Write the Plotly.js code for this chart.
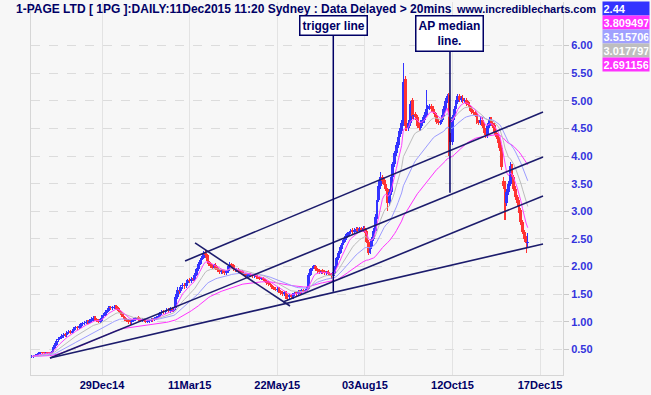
<!DOCTYPE html>
<html><head><meta charset="utf-8">
<script src="https://cdn.plot.ly/plotly-3.0.1.min.js"></script>
<style>html,body{margin:0;padding:0;background:#f7f7f7;}#chart{width:651px;height:395px;}</style>
</head><body><div id="chart"></div>
<script>
// ---------- data (trading-day index based) ----------
const tickIndex  = [40, 90, 140, 190, 240, 290];
const tickLabels = ['29Dec14','11Mar15','22May15','03Aug15','12Oct15','17Dec15'];
const priceTicks = [0.5,1.0,1.5,2.0,2.5,3.0,3.5,4.0,4.5,5.0,5.5,6.0];

const openP = [
0.36,0.37,0.38,0.40,0.42,0.43,0.45,0.44,0.43,0.45,
0.44,0.43,0.46,0.52,0.58,0.66,0.69,0.70,0.74,0.77,
0.75,0.80,0.83,0.80,0.84,0.88,0.91,0.88,0.92,0.95,
0.97,0.98,1.01,0.98,1.02,1.05,1.08,1.04,1.03,1.00,
1.04,1.10,1.13,1.18,1.22,1.26,1.24,1.26,1.28,1.26,
1.22,1.18,1.12,1.08,1.05,1.03,1.00,0.99,1.01,1.04,
1.06,1.08,1.05,1.02,1.05,1.02,1.00,1.01,1.03,1.05,
1.03,1.06,1.09,1.10,1.15,1.19,1.17,1.20,1.22,1.19,
1.24,1.20,1.25,1.45,1.58,1.55,1.64,1.67,1.64,1.70,
1.76,1.73,1.79,1.76,1.85,1.95,2.05,2.12,2.16,2.25,
2.20,2.10,2.06,2.01,1.98,2.03,1.97,1.94,1.90,1.93,
1.90,1.88,1.92,2.00,2.05,2.02,1.96,1.93,1.96,1.92,
1.91,1.88,1.86,1.83,1.84,1.87,1.84,1.82,1.84,1.81,
1.81,1.78,1.79,1.77,1.74,1.71,1.68,1.66,1.63,1.60,
1.57,1.60,1.56,1.52,1.50,1.54,1.48,1.45,1.49,1.45,
1.50,1.53,1.50,1.55,1.54,1.57,1.56,1.58,1.60,1.85,
1.95,1.99,2.00,1.96,1.93,1.90,1.93,1.91,1.88,1.91,
1.88,1.86,1.82,1.90,2.00,2.15,2.25,2.35,2.42,2.48,
2.55,2.60,2.62,2.66,2.62,2.66,2.69,2.65,2.69,2.66,
2.70,2.64,2.45,2.25,2.35,2.50,2.65,2.90,3.20,3.45,
3.62,3.56,3.49,3.40,3.15,3.35,3.62,3.85,4.05,4.20,
4.35,4.45,4.60,5.40,4.55,4.50,4.60,5.02,4.72,4.76,
4.70,4.55,4.50,4.60,4.65,4.75,4.86,4.88,4.91,4.86,
4.80,4.75,4.63,4.60,4.62,4.70,4.85,5.00,5.10,4.35,
4.25,4.70,4.85,4.98,5.09,5.02,5.06,5.00,5.02,4.96,
4.93,4.86,4.80,4.78,4.76,4.62,4.60,4.66,4.56,4.46,
4.38,4.55,4.66,4.60,4.56,4.42,4.35,4.30,4.15,3.55,
3.50,3.15,3.35,3.50,3.82,3.62,3.40,3.26,3.15,3.02,
2.80,2.62,2.52,2.42
];
const highP = [
0.39,0.40,0.42,0.43,0.45,0.46,0.46,0.45,0.46,0.46,
0.45,0.47,0.55,0.62,0.68,0.72,0.73,0.77,0.79,0.79,
0.83,0.85,0.85,0.87,0.91,0.93,0.93,0.95,0.97,1.00,
1.01,1.03,1.03,1.05,1.08,1.10,1.10,1.07,1.05,1.06,
1.12,1.16,1.21,1.25,1.28,1.29,1.28,1.30,1.30,1.28,
1.24,1.20,1.15,1.10,1.07,1.05,1.03,1.03,1.06,1.08,
1.09,1.10,1.07,1.06,1.07,1.04,1.03,1.05,1.06,1.07,
1.08,1.11,1.13,1.17,1.21,1.22,1.22,1.24,1.25,1.27,
1.27,1.25,1.50,1.62,1.61,1.66,1.70,1.70,1.73,1.78,
1.79,1.81,1.82,1.88,1.98,2.08,2.15,2.19,2.28,2.30,
2.23,2.13,2.08,2.04,2.05,2.06,2.00,1.96,1.95,1.95,
1.93,1.94,2.03,2.08,2.07,2.04,1.98,1.98,1.98,1.94,
1.93,1.90,1.88,1.86,1.88,1.89,1.86,1.85,1.86,1.83,
1.83,1.81,1.81,1.79,1.76,1.73,1.70,1.68,1.65,1.63,
1.62,1.62,1.58,1.55,1.56,1.56,1.50,1.51,1.51,1.52,
1.54,1.55,1.57,1.57,1.59,1.59,1.60,1.62,1.88,1.98,
2.00,2.03,2.02,1.98,1.95,1.94,1.95,1.93,1.92,1.93,
1.90,1.88,1.93,2.04,2.18,2.28,2.38,2.46,2.52,2.58,
2.63,2.65,2.68,2.69,2.69,2.71,2.72,2.71,2.72,2.74,
2.73,2.67,2.48,2.38,2.53,2.70,2.95,3.25,3.55,3.72,
3.66,3.60,3.53,3.43,3.40,3.66,3.90,4.10,4.25,4.40,
4.50,4.65,5.68,5.45,4.60,4.65,5.00,5.06,4.80,4.80,
4.74,4.60,4.65,4.70,4.80,5.20,4.92,4.95,4.95,4.90,
4.84,4.78,4.67,4.66,4.74,4.90,5.05,5.12,5.14,4.42,
4.75,4.90,5.02,5.12,5.12,5.08,5.10,5.05,5.06,5.00,
4.97,4.90,4.84,4.82,4.80,4.66,4.70,4.70,4.60,4.50,
4.60,4.70,4.70,4.64,4.60,4.46,4.40,4.34,4.20,3.62,
3.55,3.40,3.55,3.90,3.86,3.66,3.45,3.30,3.20,3.06,
2.85,2.66,2.56,2.60
];
const lowP = [
0.34,0.35,0.36,0.38,0.40,0.41,0.42,0.41,0.41,0.42,
0.41,0.41,0.44,0.50,0.56,0.63,0.66,0.68,0.71,0.72,
0.73,0.77,0.77,0.78,0.81,0.85,0.85,0.86,0.89,0.93,
0.94,0.95,0.96,0.96,0.99,1.02,1.01,1.00,0.97,0.97,
1.02,1.07,1.10,1.15,1.19,1.21,1.21,1.23,1.23,1.19,
1.15,1.09,1.05,1.02,0.99,0.96,0.94,0.96,0.99,1.01,
1.03,1.02,0.99,0.99,0.99,0.97,0.97,0.98,1.00,1.00,
1.01,1.03,1.06,1.08,1.12,1.14,1.14,1.17,1.16,1.16,
1.18,1.17,1.22,1.42,1.51,1.52,1.60,1.60,1.61,1.67,
1.70,1.70,1.73,1.73,1.82,1.92,2.02,2.09,2.13,2.16,
2.06,2.01,1.97,1.95,1.95,1.93,1.90,1.87,1.87,1.86,
1.85,1.85,1.89,1.97,1.99,1.92,1.90,1.90,1.89,1.87,
1.85,1.82,1.80,1.80,1.81,1.81,1.79,1.79,1.78,1.77,
1.75,1.75,1.73,1.71,1.67,1.65,1.63,1.59,1.57,1.55,
1.54,1.52,1.49,1.47,1.47,1.42,1.37,1.42,1.42,1.42,
1.47,1.47,1.47,1.51,1.51,1.53,1.53,1.55,1.58,1.82,
1.92,1.96,1.92,1.89,1.87,1.87,1.87,1.85,1.85,1.84,
1.82,1.78,1.79,1.87,1.97,2.12,2.22,2.32,2.39,2.45,
2.52,2.57,2.59,2.59,2.59,2.63,2.62,2.62,2.63,2.63,
2.61,2.42,2.20,2.22,2.32,2.47,2.62,2.86,3.16,3.40,
3.50,3.44,3.36,3.00,3.10,3.30,3.58,3.80,4.00,4.15,
4.30,4.40,4.55,4.45,4.45,4.45,4.55,4.67,4.67,4.65,
4.50,4.45,4.45,4.55,4.60,4.70,4.82,4.84,4.80,4.76,
4.71,4.58,4.56,4.56,4.58,4.66,4.80,4.96,4.00,4.20,
4.20,4.65,4.80,4.94,4.98,4.98,4.96,4.96,4.91,4.88,
4.81,4.76,4.74,4.71,4.58,4.56,4.56,4.51,4.41,4.33,
4.33,4.50,4.56,4.51,4.38,4.30,4.23,4.10,3.75,3.40,
2.84,3.10,3.30,3.45,3.58,3.36,3.20,3.10,2.97,2.75,
2.58,2.45,2.25,2.36
];
const closeP = [
0.37,0.38,0.40,0.42,0.43,0.44,0.44,0.43,0.44,0.44,
0.43,0.45,0.52,0.58,0.65,0.68,0.70,0.74,0.76,0.75,
0.80,0.82,0.80,0.84,0.88,0.90,0.88,0.92,0.95,0.97,
0.98,1.00,0.98,1.02,1.05,1.07,1.04,1.02,1.00,1.04,
1.10,1.13,1.18,1.22,1.25,1.24,1.26,1.27,1.26,1.22,
1.18,1.12,1.08,1.05,1.02,1.00,0.99,1.01,1.04,1.06,
1.07,1.05,1.02,1.04,1.02,1.00,1.01,1.03,1.04,1.03,
1.06,1.09,1.10,1.15,1.18,1.17,1.20,1.21,1.19,1.24,
1.21,1.22,1.45,1.58,1.55,1.63,1.66,1.64,1.70,1.75,
1.73,1.78,1.76,1.85,1.95,2.05,2.12,2.15,2.22,2.20,
2.10,2.05,2.00,1.98,2.02,1.96,1.93,1.90,1.92,1.89,
1.88,1.92,2.00,2.04,2.02,1.95,1.93,1.95,1.92,1.90,
1.88,1.85,1.83,1.84,1.86,1.84,1.82,1.83,1.81,1.80,
1.78,1.79,1.76,1.74,1.70,1.68,1.66,1.62,1.60,1.58,
1.60,1.55,1.52,1.50,1.53,1.47,1.45,1.48,1.45,1.50,
1.52,1.50,1.55,1.54,1.57,1.56,1.58,1.60,1.85,1.95,
1.98,2.00,1.95,1.92,1.90,1.92,1.90,1.88,1.90,1.87,
1.85,1.82,1.90,2.00,2.15,2.25,2.35,2.42,2.48,2.55,
2.60,2.62,2.65,2.62,2.66,2.68,2.65,2.68,2.66,2.70,
2.64,2.45,2.25,2.35,2.50,2.65,2.90,3.20,3.45,3.62,
3.55,3.48,3.40,3.15,3.35,3.62,3.85,4.05,4.20,4.35,
4.45,4.60,5.35,4.55,4.50,4.60,4.95,4.72,4.75,4.70,
4.55,4.50,4.60,4.65,4.75,4.85,4.88,4.90,4.85,4.80,
4.75,4.62,4.60,4.62,4.70,4.85,5.00,5.08,4.35,4.25,
4.70,4.85,4.98,5.08,5.02,5.05,5.00,5.02,4.95,4.92,
4.85,4.80,4.78,4.75,4.62,4.60,4.65,4.55,4.45,4.38,
4.55,4.65,4.60,4.55,4.42,4.35,4.28,4.15,3.80,3.45,
3.15,3.35,3.50,3.82,3.62,3.40,3.25,3.15,3.02,2.80,
2.62,2.50,2.42,2.44
];

// exponential moving-average periods (slow -> fast), as in the value boxes
const maPeriods = [60, 30, 15, 7];
const legendValues = ['2.44','3.809497','3.515706','3.017797','2.691156'];

// analyst trendlines (index, price) endpoints
const trendX0 = [10.3, 10.3, 143.3, 87.4, 93.1];
const trendY0 = [0.342, 0.342, 1.357, 2.100, 2.426];
const trendX1 = [291.7, 291.7, 291.7, 291.7, 147.3];
const trendY1 = [2.408, 3.984, 3.277, 4.799, 1.284];

// callouts
const calloutText = ['trigger line', 'AP median<br>line.'];
const calloutX    = [172.0, 238.6];
const calloutY    = [1.543, 3.337];

// ---------- styling / layout ----------
const FONT = 'Liberation Sans, Arial, sans-serif';
const NAVY = '#000066';
const UP = '#3333ff', DOWN = '#ff3333';
const maColors = ['#ff33ff', '#9c9cff', '#bcbcbc', '#ff44ff'];
const legendColors = ['#3333ff', '#ff33ff', '#a0a0ff', '#bebebe', '#ff33ff'];
const calloutBoxY = [6.362, 6.225];

const M = {l: 31, r: 88, t: 2, b: 20};
const W = 651, H = 395;
const plotL = M.l, plotR = W - M.r, plotT = M.t, plotB = H - M.b;
const px2paper = px => (px - plotL) / (plotR - plotL);
const py2paper = py => (plotB - py) / (plotB - plotT);

const idx = closeP.map((_, i) => i);
const colors = closeP.map((c, i) => c >= openP[i] ? UP : DOWN);

function ema(arr, n) {
  const a = 2 / (n + 1);
  const out = [];
  let e = arr[0];
  arr.forEach((v, i) => { e = i === 0 ? v : e + a * (v - e); out.push(e); });
  return out;
}

const traces = [];
// wicks
traces.push({type: 'bar', x: idx, base: lowP, y: highP.map((h, i) => h - lowP[i]),
  width: 0.6, marker: {color: colors, line: {width: 0}}, hoverinfo: 'skip'});
// bodies
traces.push({type: 'bar', x: idx,
  base: closeP.map((c, i) => Math.min(c, openP[i])),
  y: closeP.map((c, i) => Math.max(Math.abs(c - openP[i]), 0.012)),
  width: 1.6, marker: {color: colors, line: {width: 0}}, hoverinfo: 'skip'});
// moving averages
maPeriods.forEach((p, k) => {
  traces.push({type: 'scatter', mode: 'lines', x: idx, y: ema(closeP, p),
    line: {color: maColors[k], width: 1}, hoverinfo: 'skip'});
});
// trendlines
trendX0.forEach((x0, k) => {
  traces.push({type: 'scatter', mode: 'lines', x: [x0, trendX1[k]], y: [trendY0[k], trendY1[k]],
    line: {color: '#1c1c6c', width: 1.6}, hoverinfo: 'skip'});
});

const annotations = [];
calloutText.forEach((t, k) => {
  annotations.push({x: calloutX[k], y: calloutY[k], xref: 'x', yref: 'y',
    ax: calloutX[k], ay: calloutBoxY[k], axref: 'x', ayref: 'y',
    text: t, showarrow: true, arrowhead: 0, arrowwidth: 1.5, arrowcolor: NAVY,
    standoff: 0, startstandoff: 0,
    bordercolor: NAVY, borderwidth: 1.5, borderpad: 2, bgcolor: '#ffffff',
    font: {family: FONT, size: 12, color: NAVY, weight: 'bold'}});
});
annotations.push({xref: 'paper', yref: 'paper', x: px2paper(598), y: py2paper(8.5),
  xanchor: 'right', yanchor: 'middle', showarrow: false, text: 'www.incrediblecharts.com',
  font: {family: FONT, size: 11, color: NAVY, weight: 'bold'}});
legendValues.forEach((v, k) => {
  annotations.push({xref: 'paper', yref: 'paper', x: px2paper(601.5), y: py2paper(8.5 + 14 * k),
    xanchor: 'left', yanchor: 'middle', showarrow: false, text: v, align: 'left',
    width: 45, height: 12, borderpad: 0.5, bgcolor: legendColors[k],
    font: {family: FONT, size: 11, color: '#ffffff', weight: 'bold'}});
});

const layout = {
  width: W, height: H, margin: M,
  paper_bgcolor: '#f7f7f7', plot_bgcolor: '#f7f7f7',
  showlegend: false, barmode: 'overlay', bargap: 0,
  title: {text: '1-PAGE LTD [ 1PG ]:DAILY:11Dec2015 11:20 Sydney : Data Delayed > 20mins',
    x: 16 / W, xanchor: 'left', xref: 'container', y: 1 - 8.5 / H, yanchor: 'middle', yref: 'container',
    font: {family: FONT, size: 12, color: NAVY, weight: 'bold'}},
  xaxis: {range: [-0.52, 303.1], tickvals: tickIndex, ticktext: tickLabels,
    showgrid: true, gridcolor: '#e3e3e3', gridwidth: 1, zeroline: false,
    showline: true, linecolor: '#d6d6d6', linewidth: 1, ticks: '',
    tickfont: {family: FONT, size: 11, color: NAVY, weight: 'bold'}, fixedrange: true},
  yaxis: {side: 'right', range: [0.0344, 6.79], tickvals: priceTicks,
    ticktext: priceTicks.map(v => v.toFixed(2)),
    showgrid: true, gridcolor: '#dcdcdc', griddash: 'dash', gridwidth: 1, zeroline: false,
    showline: true, mirror: true, linecolor: '#d6d6d6', linewidth: 1,
    ticks: 'outside', ticklen: 5, tickcolor: '#c8c8c8',
    tickfont: {family: FONT, size: 11, color: '#3333dd', weight: 'bold'}, fixedrange: true},
  annotations: annotations
};

Plotly.newPlot('chart', traces, layout, {displayModeBar: false, staticPlot: true});
</script>
</body></html>
